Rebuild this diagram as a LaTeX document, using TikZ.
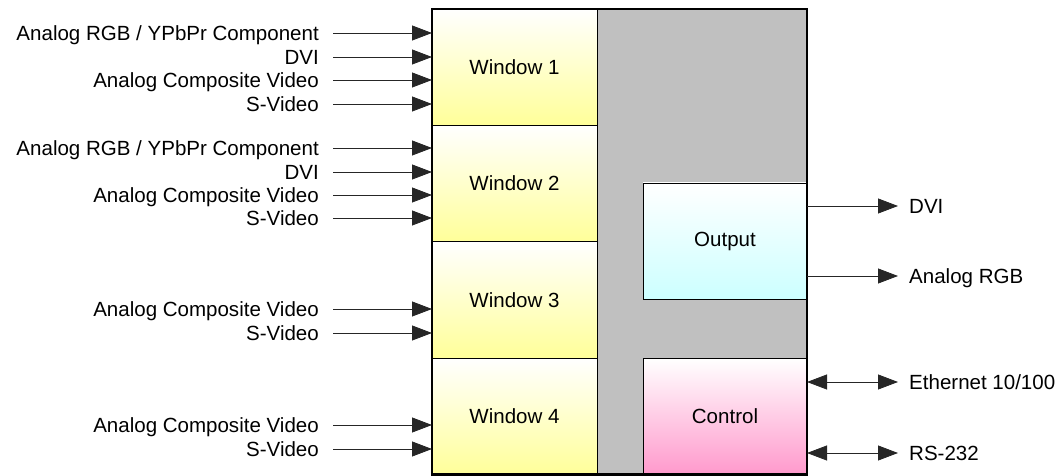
\documentclass[tikz,border=0pt]{standalone}
\usepackage{fontspec}
\setmainfont{Liberation Sans}
\usetikzlibrary{arrows.meta}
\definecolor{panelgray}{HTML}{C0C0C0}
\definecolor{winyellow}{HTML}{FFFF99}
\definecolor{outcyan}{HTML}{CCFFFF}
\definecolor{ctlpink}{HTML}{FF99CC}
\begin{document}
\begin{tikzpicture}[x=1bp,y=-1bp,
  font=\fontsize{20.6}{24}\selectfont,
  sig/.style={draw=black!85, line width=0.8bp,
    -{Triangle[length=20bp,width=15bp]}},
  bisig/.style={draw=black!85, line width=0.8bp,
    {Triangle[length=20bp,width=15bp]}-{Triangle[length=20bp,width=15bp]}},
  inlabel/.style={anchor=east, inner sep=0pt, text height=14.7bp, text depth=0pt},
  outlabel/.style={anchor=west, inner sep=0pt, text height=14.7bp, text depth=0pt},
  block/.style={draw=black, line width=0.8bp, inner sep=0pt, outer sep=0pt,
    minimum width=165bp, minimum height=116.4bp},
  window/.style={block, top color=white, bottom color=winyellow},
  unit/.style={draw=black, line width=0.8bp, inner sep=0pt, outer sep=0pt,
    minimum width=164bp, minimum height=116bp}]
\useasboundingbox (0,0) rectangle (1064,476);

% grey processing panel
\fill[panelgray] (597,9) rectangle (807,474.5);

% input windows
\node[window] (w1) at (514.5,67.2)  {Window 1};
\node[window] (w2) at (514.5,183.6) {Window 2};
\node[window] (w3) at (514.5,300)   {Window 3};
\node[window] (w4) at (514.5,416.4) {Window 4};

% output and control units
\node[unit, top color=white, bottom color=outcyan] (out) at (725,241) {Output};
\node[unit, top color=white, bottom color=ctlpink] (ctl) at (725,416.5) {Control};

% outer frame
\node[draw=black, line width=2.5bp, inner sep=0pt, outer sep=0pt,
  minimum width=375bp, minimum height=465.5bp] (frame) at (619.5,241.75) {};

% input labels
\node[inlabel] (a1) at (319,33)  {Analog RGB / YPbPr Component};
\node[inlabel] (a2) at (319,57)  {DVI};
\node[inlabel] (a3) at (319,80)  {Analog Composite Video};
\node[inlabel] (a4) at (319,104) {S-Video};
\node[inlabel] (b1) at (319,148) {Analog RGB / YPbPr Component};
\node[inlabel] (b2) at (319,172) {DVI};
\node[inlabel] (b3) at (319,195) {Analog Composite Video};
\node[inlabel] (b4) at (319,218) {S-Video};
\node[inlabel] (c3) at (319,309) {Analog Composite Video};
\node[inlabel] (c4) at (319,333) {S-Video};
\node[inlabel] (d3) at (319,425) {Analog Composite Video};
\node[inlabel] (d4) at (319,449) {S-Video};

% input connectors
\foreach \l/\w in {a1/w1,a2/w1,a3/w1,a4/w1,b1/w2,b2/w2,b3/w2,b4/w2,c3/w3,c4/w3,d3/w4,d4/w4}
  \draw[sig] ([xshift=14bp]\l.east) -- (\l.east -| \w.west);

% output labels
\node[outlabel] (o1) at (909,206) {DVI};
\node[outlabel] (o2) at (909,276) {Analog RGB};
\node[outlabel] (e1) at (909,382) {Ethernet 10/100};
\node[outlabel] (e2) at (909,453) {RS-232};

% output connectors
\draw[sig] (out.east |- o1.west) -- ([xshift=-11bp]o1.west);
\draw[sig] (out.east |- o2.west) -- ([xshift=-11bp]o2.west);
\draw[bisig] (ctl.east |- e1.west) -- ([xshift=-11bp]e1.west);
\draw[bisig] (ctl.east |- e2.west) -- ([xshift=-11bp]e2.west);
\end{tikzpicture}
\end{document}
